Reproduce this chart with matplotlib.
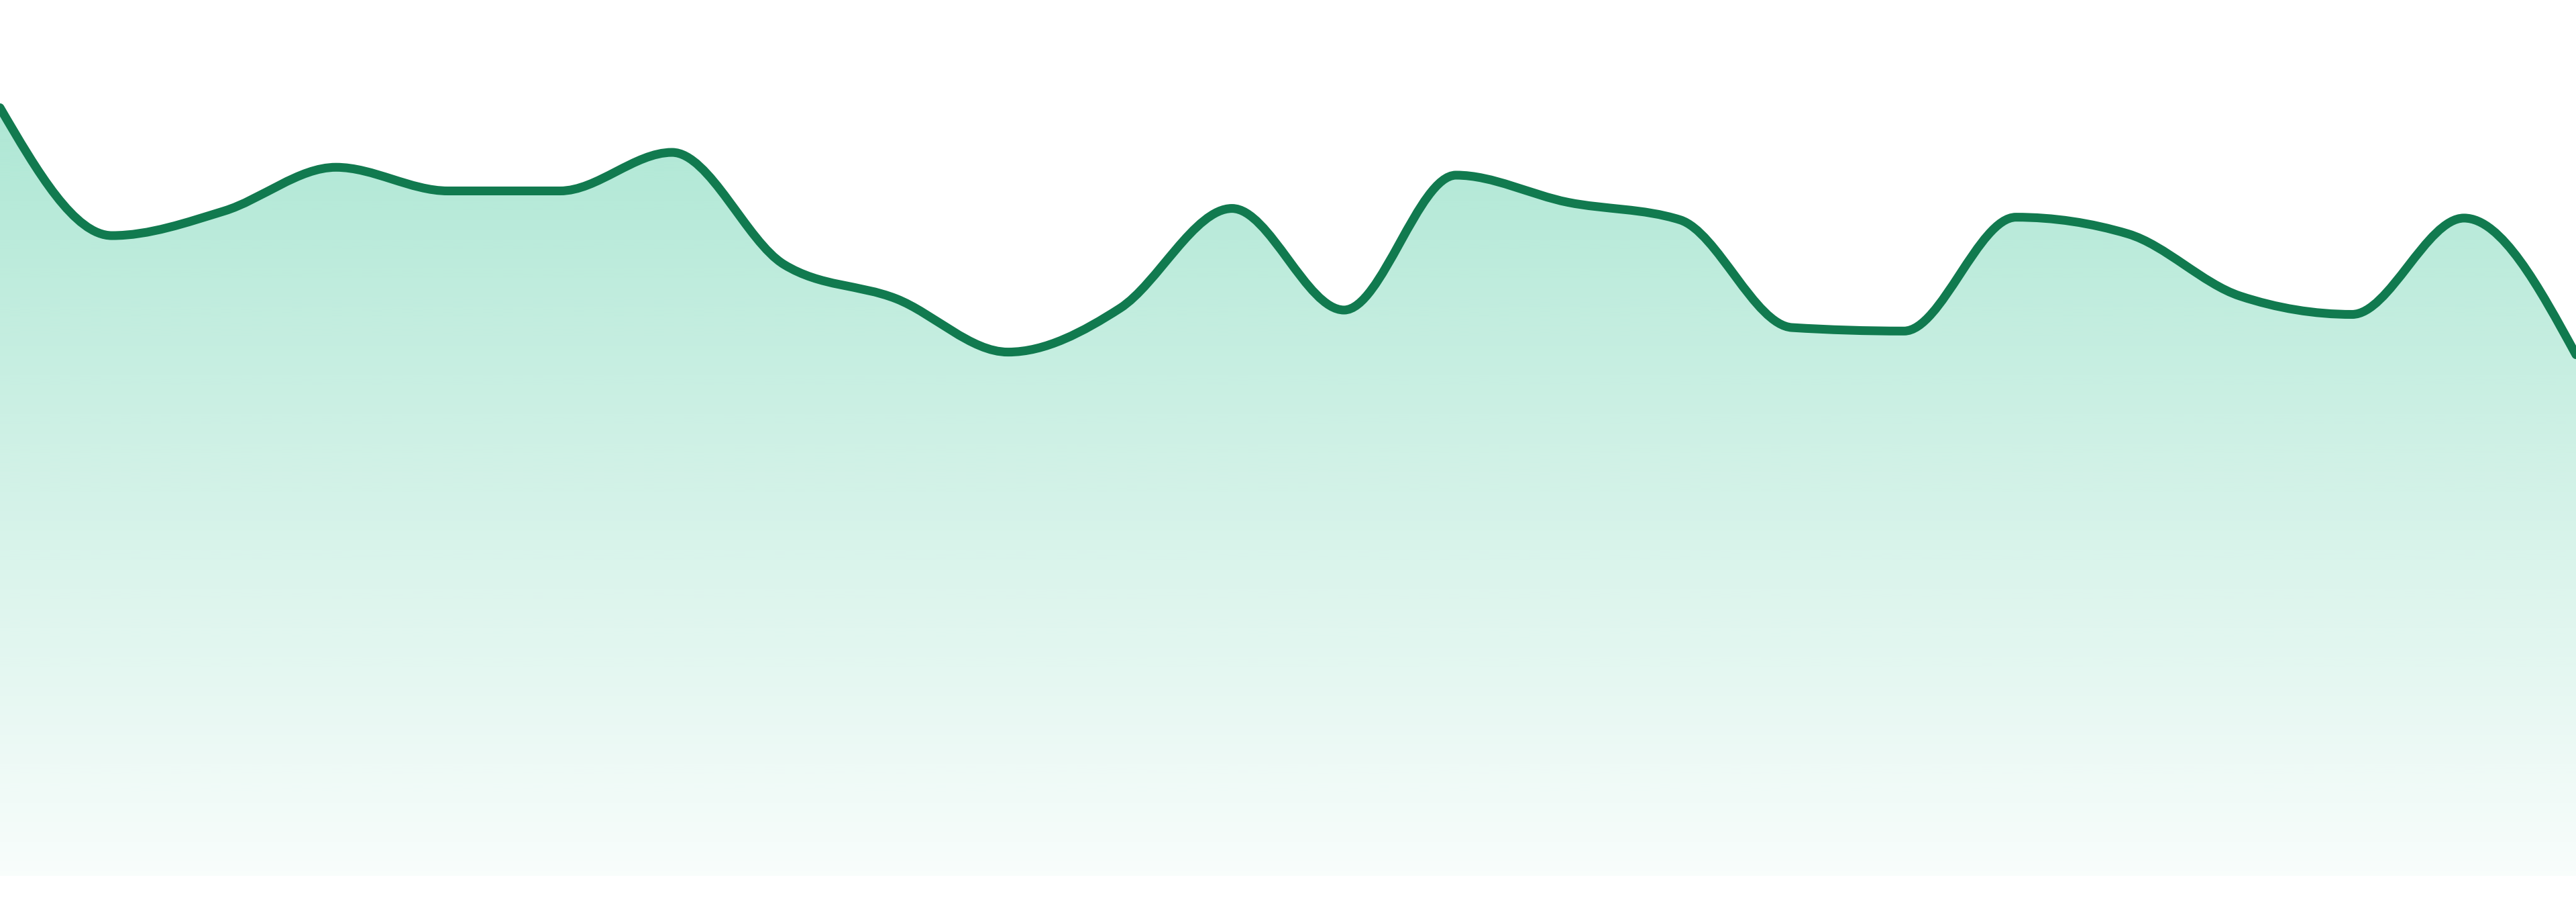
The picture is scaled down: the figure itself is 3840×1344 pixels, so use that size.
import numpy as np
import matplotlib
matplotlib.use("Agg")
import matplotlib.pyplot as plt
from matplotlib.path import Path
from matplotlib.patches import PathPatch

# Data (24 points, arbitrary units 0-100)
x_index = list(range(24))
values = [87.7, 73.1, 75.9, 80.9, 78.2, 78.2, 82.6, 69.8, 65.9, 59.8, 64.8, 76.2,
          64.6, 80.0, 76.9, 74.9, 62.6, 62.2, 75.2, 73.3, 66.2, 64.1, 75.1, 59.5]

line_color = "#117a4f"
fill_rgb = (16 / 255, 185 / 255, 129 / 255)


def sign(v):
    return -1.0 if v < 0 else 1.0


def monotone_tangents(xs, ys):
    # same slopes as d3.curveMonotoneX
    n = len(xs)
    t = [0.0] * n
    for i in range(1, n - 1):
        h0 = xs[i] - xs[i - 1]
        h1 = xs[i + 1] - xs[i]
        s0 = (ys[i] - ys[i - 1]) / h0
        s1 = (ys[i + 1] - ys[i]) / h1
        p = (s0 * h1 + s1 * h0) / (h0 + h1)
        t[i] = (sign(s0) + sign(s1)) * min(abs(s0), abs(s1), 0.5 * abs(p))
    h = xs[1] - xs[0]
    t[0] = (3 * (ys[1] - ys[0]) / h - t[1]) / 2
    h = xs[-1] - xs[-2]
    t[-1] = (3 * (ys[-1] - ys[-2]) / h - t[-2]) / 2
    return t


def monotone_path(xs, ys):
    t = monotone_tangents(xs, ys)
    verts = [(xs[0], ys[0])]
    codes = [Path.MOVETO]
    for i in range(len(xs) - 1):
        dx = (xs[i + 1] - xs[i]) / 3
        verts += [(xs[i] + dx, ys[i] + dx * t[i]),
                  (xs[i + 1] - dx, ys[i + 1] - dx * t[i + 1]),
                  (xs[i + 1], ys[i + 1])]
        codes += [Path.CURVE4] * 3
    return verts, codes


verts, codes = monotone_path(x_index, values)

fig = plt.figure(figsize=(38.4, 13.44), dpi=100)
ax = fig.add_axes([0, 39 / 1344, 1, 1305 / 1344])
ax.set_xlim(0, 23)
ax.set_ylim(0, 100)
ax.axis("off")

# Area under the curve, filled with a vertical gradient
area_verts = verts + [(x_index[-1], 0), (x_index[0], 0), (x_index[0], values[0])]
area_codes = codes + [Path.LINETO, Path.LINETO, Path.CLOSEPOLY]
area = PathPatch(Path(area_verts, area_codes), facecolor="none", edgecolor="none")
ax.add_patch(area)

grad = np.zeros((256, 1, 4))
grad[:, 0, 0] = fill_rgb[0]
grad[:, 0, 1] = fill_rgb[1]
grad[:, 0, 2] = fill_rgb[2]
grad[:, 0, 3] = np.linspace(0.34, 0.03, 256)
img = ax.imshow(grad, extent=[0, 23, 0, 88], origin="upper", aspect="auto",
                interpolation="bilinear", zorder=1)
img.set_clip_path(area)

line = PathPatch(Path(verts, codes), facecolor="none", edgecolor=line_color,
                 linewidth=9.4, capstyle="round", joinstyle="round", zorder=2)
ax.add_patch(line)

fig.savefig("out.png", dpi=100)
